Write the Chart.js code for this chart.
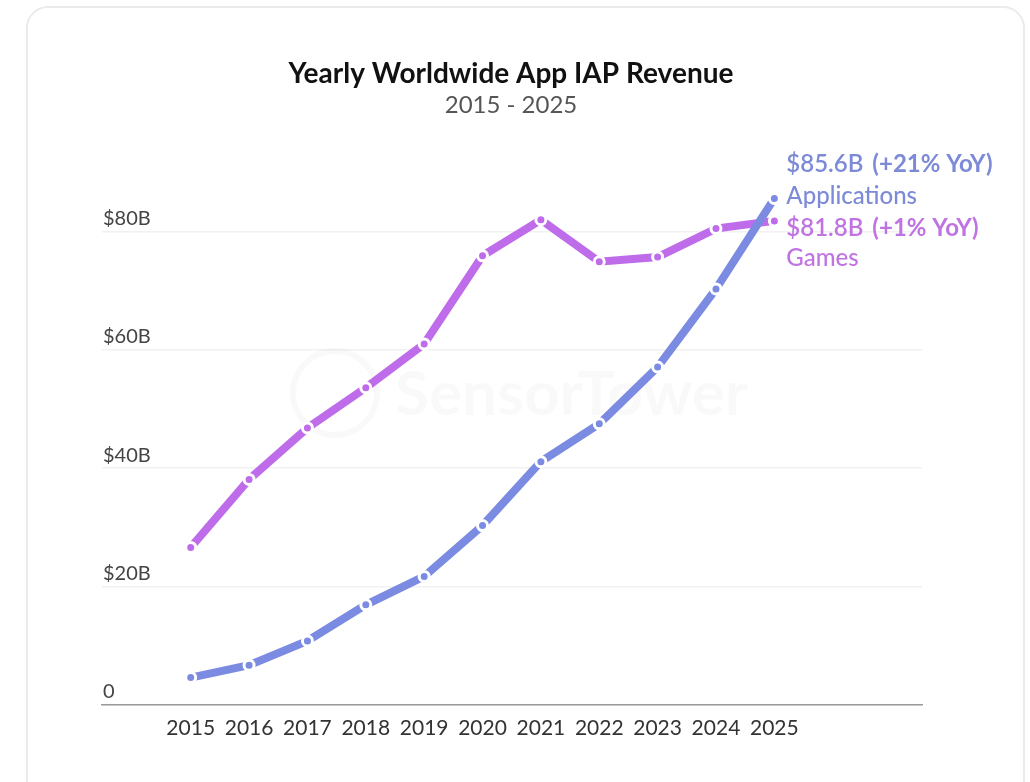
<!DOCTYPE html>
<html>
<head>
<meta charset="utf-8">
<script src="https://cdn.jsdelivr.net/npm/chart.js@4"></script>
<style>
  html, body { margin: 0; padding: 0; background: #fff; }
  #card { position: absolute; left: 26px; top: 6px; width: 995px; height: 800px;
          border: 2px solid #ebebeb; border-radius: 22px; }
  #wrap { position: absolute; left: 0; top: 0; width: 1030px; height: 782px; }
</style>
</head>
<body>
<div id="card"></div>
<div id="wrap"><canvas id="myChart"></canvas></div>
<script>
// years on the x axis
var years = [2015, 2016, 2017, 2018, 2019, 2020, 2021, 2022, 2023, 2024, 2025];
// revenue in $B
var games = [26.6, 38.1, 46.8, 53.6, 61.0, 75.9, 82.0, 74.9, 75.7, 80.5, 81.8];
var apps = [4.6, 6.7, 10.8, 16.9, 21.7, 30.3, 41.1, 47.5, 57.1, 70.3, 85.6];
// y tick values
var yTicks = [0, 20, 40, 60, 80];
// end labels
var seriesNames = ['Applications', 'Games'];
var yoyNotes = ['(+21% YoY)', '(+1% YoY)'];

var appsColor = '#7b8be2';
var gamesColor = '#bf6cea';

function toPoints(vals) {
  return years.map((y, i) => ({ x: y, y: vals[i] }));
}

// label at the end of each line
const endLabels = {
  id: 'endLabels',
  afterDatasetsDraw(chart) {
    const ctx = chart.ctx;
    ctx.save();
    ctx.textBaseline = 'middle';
    ctx.textAlign = 'left';
    chart.data.datasets.forEach((ds, i) => {
      const meta = chart.getDatasetMeta(i);
      const last = meta.data[meta.data.length - 1];
      const val = ds.data[ds.data.length - 1].y;
      const x = last.x + 12;
      let y1, y2;
      if (i === 0) { y1 = last.y - 34; y2 = last.y - 2; }
      else { y1 = last.y + 7; y2 = last.y + 37; }
      ctx.fillStyle = ds.labelColor;
      ctx.font = '600 24px Lato';
      const valText = '$' + val.toFixed(1) + 'B';
      ctx.fillText(valText, x, y1);
      const w = ctx.measureText(valText).width + 9;
      ctx.font = 'bold 24px Lato';
      ctx.fillText(yoyNotes[i], x + w, y1);
      ctx.font = '500 24px Lato';
      ctx.fillText(seriesNames[i], x, y2);
    });
    ctx.restore();
  },
  beforeDatasetsDraw(chart) {
    // faint watermark
    const ctx = chart.ctx;
    ctx.save();
    ctx.fillStyle = 'rgba(0,0,0,0.025)';
    ctx.font = 'bold 62px Lato';
    ctx.textAlign = 'left';
    ctx.textBaseline = 'middle';
    ctx.fillText('SensorTower', 395, 395);
    ctx.lineWidth = 6;
    ctx.strokeStyle = 'rgba(0,0,0,0.025)';
    ctx.beginPath();
    ctx.arc(335, 393, 42, 0, Math.PI * 2);
    ctx.stroke();
    ctx.restore();
  }
};

var ctx = document.getElementById('myChart').getContext('2d');
var myChart = new Chart(ctx, {
  type: 'line',
  data: {
    datasets: [{
      label: 'Applications',
      data: toPoints(apps),
      borderColor: appsColor,
      backgroundColor: appsColor,
      labelColor: '#7c8ad8',
      borderWidth: 8,
      pointRadius: 5,
      pointBorderWidth: 3,
      pointBorderColor: '#fff',
      pointBackgroundColor: appsColor,
      tension: 0
    }, {
      label: 'Games',
      data: toPoints(games),
      borderColor: gamesColor,
      backgroundColor: gamesColor,
      labelColor: '#c073e2',
      borderWidth: 8,
      pointRadius: 5,
      pointBorderWidth: 3,
      pointBorderColor: '#fff',
      pointBackgroundColor: gamesColor,
      tension: 0
    }]
  },
  options: {
    responsive: true,
    maintainAspectRatio: false,
    animation: false,
    layout: { padding: { left: 100, right: 108, top: 0, bottom: 30 } },
    plugins: {
      legend: { display: false },
      tooltip: { enabled: false },
      title: {
        display: true,
        text: 'Yearly Worldwide App IAP Revenue',
        color: '#111',
        font: { family: 'Lato', size: 28, weight: 'bold' },
        padding: { top: 57, bottom: 0 }
      },
      subtitle: {
        display: true,
        text: '2015 - 2025',
        color: '#555',
        font: { family: 'Lato', size: 24, weight: 'normal' },
        padding: { top: 0, bottom: 53 }
      }
    },
    scales: {
      x: {
        type: 'linear',
        min: 2013.48,
        max: 2027.53,
        afterBuildTicks: (scale) => { scale.ticks = years.map(v => ({ value: v })); },
        grid: { display: false, drawTicks: false },
        border: { display: true, color: '#9a9a9a', width: 1.5 },
        ticks: {
          color: '#333',
          padding: 11,
          font: { family: 'Lato', size: 21 },
          callback: (v) => String(v)
        }
      },
      y: {
        min: 0,
        max: 90,
        afterBuildTicks: (scale) => { scale.ticks = yTicks.map(v => ({ value: v })); },
        grid: { color: '#f1f1f1', lineWidth: 1.5, drawTicks: false },
        border: { display: false },
        ticks: {
          mirror: true,
          padding: 1,
          labelOffset: -13,
          color: '#444',
          font: { family: 'Lato', size: 20 },
          callback: (v) => v === 0 ? '0' : '$' + v + 'B'
        }
      }
    }
  },
  plugins: [endLabels]
});
</script>
</body>
</html>
